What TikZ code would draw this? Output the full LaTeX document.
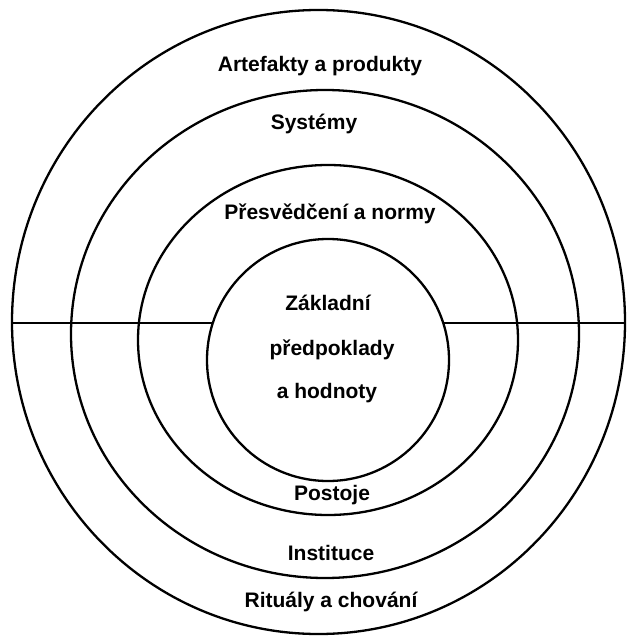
\documentclass[tikz,border=0pt]{standalone}
\usepackage{fontspec}
\setmainfont{Liberation Sans}
\usetikzlibrary{shapes.geometric}
\begin{document}
\begin{tikzpicture}[x=1pt,y=-1pt,
  ring/.style={draw, line width=2.3pt, ellipse, inner sep=0pt, outer sep=0pt},
  lbl/.style={font=\fontsize{21}{24}\selectfont\bfseries, inner sep=0pt, anchor=center},
  divider/.style={line width=2.2pt}]
\useasboundingbox (0,0) rectangle (626,636);
\node[ring, minimum width=613pt, minimum height=624pt] (c1) at (318.5,322) {};
\node[ring, minimum width=508pt, minimum height=488pt] (c2) at (325,334) {};
\node[ring, minimum width=380pt, minimum height=350pt] (c3) at (328,340) {};
\node[ring, minimum width=242pt, minimum height=242pt] (c4) at (328,360) {};
\coordinate (l1) at (12,323);
\coordinate (l4) at (213,323);
\coordinate (r4) at (443,323);
\coordinate (r1) at (626,323);
\draw[divider] (l1) -- (l4);
\draw[divider, line width=2.8pt] (r4) -- (r1);
\node[lbl] (t1) at (320,66) {Artefakty a produkty};
\node[lbl] (t2) at (314,124) {Systémy};
\node[lbl] (t3) at (330,214) {Přesvědčení a normy};
\node[lbl] (t4) at (328,303) {Základní};
\node[lbl] (t5) at (332,350) {předpoklady};
\node[lbl] (t6) at (327,393) {a hodnoty};
\node[lbl] (t7) at (332,495) {Postoje};
\node[lbl] (t8) at (331,553) {Instituce};
\node[lbl] (t9) at (331,602) {Rituály a chování};
\end{tikzpicture}
\end{document}
